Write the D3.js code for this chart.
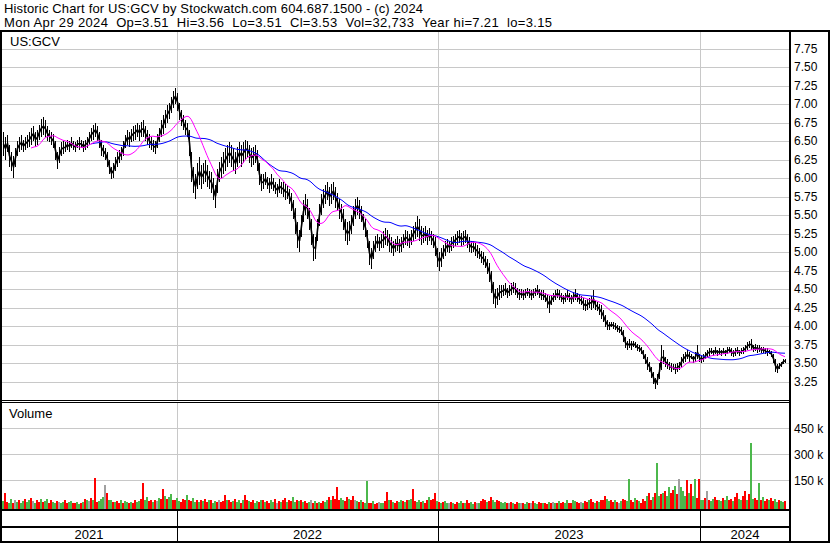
<!DOCTYPE html>
<html><head><meta charset="utf-8">
<script src="https://cdn.jsdelivr.net/npm/d3@7"></script>
<style>
html,body{margin:0;padding:0;background:#fff;}
svg{display:block;font-family:"Liberation Sans",Arial,sans-serif;}
text{white-space:pre;}
</style></head><body>
<svg id="c" width="830" height="543"></svg>
<script>
// ---- data (one point per two trading days, May 2021 .. Apr 29 2024) ----
const hi = [
6.62,6.55,6.58,6.45,6.35,6.30,6.40,6.50,6.55,6.58,
6.52,6.55,6.58,6.62,6.68,6.70,6.62,6.65,6.72,6.80,
6.82,6.78,6.70,6.65,6.62,6.60,6.50,6.35,6.42,6.48,
6.50,6.48,6.52,6.50,6.55,6.50,6.48,6.52,6.55,6.52,
6.50,6.52,6.55,6.62,6.68,6.72,6.75,6.70,6.62,6.52,
6.45,6.40,6.35,6.25,6.15,6.20,6.28,6.35,6.38,6.42,
6.50,6.58,6.65,6.62,6.66,6.70,6.72,6.75,6.72,6.76,
6.78,6.70,6.65,6.60,6.55,6.52,6.50,6.60,6.68,6.78,
6.85,6.92,6.98,7.02,7.10,7.18,7.21,7.15,7.02,6.92,
6.85,6.78,6.75,6.65,6.35,6.15,6.05,6.20,6.28,6.18,
6.20,6.25,6.18,6.10,6.08,6.00,5.90,6.12,6.22,6.28,
6.35,6.40,6.45,6.48,6.45,6.40,6.35,6.42,6.48,6.45,
6.48,6.52,6.50,6.45,6.40,6.42,6.45,6.38,6.20,6.05,
6.05,6.08,6.02,6.00,6.05,6.00,5.95,5.92,5.98,5.95,
5.95,5.92,5.90,5.85,5.80,5.70,5.60,5.40,5.30,5.50,
5.70,5.78,5.72,5.60,5.45,5.25,5.20,5.45,5.65,5.78,
5.85,5.90,5.95,5.88,5.92,5.95,5.88,5.80,5.72,5.65,
5.58,5.45,5.40,5.42,5.50,5.62,5.72,5.75,5.70,5.62,
5.52,5.45,5.30,5.15,5.05,5.15,5.22,5.25,5.20,5.25,
5.28,5.32,5.30,5.25,5.20,5.15,5.18,5.22,5.18,5.20,
5.25,5.30,5.28,5.25,5.30,5.35,5.40,5.48,5.45,5.35,
5.32,5.35,5.30,5.32,5.28,5.25,5.20,5.05,5.00,5.05,
5.10,5.15,5.18,5.15,5.20,5.22,5.25,5.28,5.30,5.26,
5.28,5.30,5.25,5.20,5.15,5.15,5.12,5.10,5.05,5.02,
5.00,4.95,4.90,4.85,4.75,4.60,4.50,4.52,4.55,4.55,
4.55,4.58,4.52,4.55,4.58,4.60,4.58,4.52,4.50,4.50,
4.48,4.50,4.52,4.50,4.48,4.50,4.52,4.55,4.50,4.48,
4.48,4.45,4.42,4.40,4.42,4.45,4.48,4.50,4.48,4.45,
4.42,4.45,4.48,4.45,4.42,4.46,4.50,4.45,4.42,4.40,
4.38,4.35,4.36,4.38,4.40,4.48,4.35,4.32,4.30,4.28,
4.22,4.15,4.08,4.05,4.06,4.05,4.04,4.02,4.00,3.98,
3.95,3.85,3.80,3.82,3.80,3.80,3.78,3.76,3.75,3.72,
3.68,3.62,3.58,3.52,3.45,3.38,3.30,3.35,3.50,3.74,
3.68,3.58,3.55,3.52,3.50,3.48,3.48,3.50,3.52,3.58,
3.62,3.65,3.68,3.65,3.62,3.60,3.65,3.74,3.62,3.60,
3.62,3.65,3.68,3.70,3.70,3.68,3.72,3.68,3.70,3.68,
3.70,3.68,3.72,3.72,3.70,3.68,3.70,3.72,3.68,3.70,
3.72,3.75,3.78,3.80,3.82,3.75,3.76,3.74,3.75,3.72,
3.72,3.70,3.70,3.68,3.66,3.62,3.55,3.48,3.50,3.52,3.56,3.56];
const lo = [
6.30,6.25,6.35,6.15,6.10,6.00,6.15,6.30,6.35,6.38,
6.35,6.38,6.40,6.42,6.45,6.50,6.42,6.45,6.52,6.55,
6.58,6.55,6.50,6.48,6.45,6.40,6.25,6.12,6.20,6.30,
6.32,6.35,6.38,6.35,6.40,6.38,6.35,6.40,6.38,6.40,
6.35,6.38,6.40,6.45,6.50,6.52,6.55,6.50,6.40,6.30,
6.28,6.25,6.15,6.05,5.98,6.00,6.10,6.15,6.20,6.25,
6.30,6.40,6.45,6.42,6.48,6.50,6.52,6.55,6.50,6.55,
6.55,6.50,6.45,6.40,6.38,6.35,6.32,6.40,6.48,6.55,
6.60,6.68,6.75,6.80,6.88,6.95,7.00,6.90,6.78,6.70,
6.65,6.58,6.55,6.30,5.95,5.80,5.72,5.85,5.90,5.85,
5.92,5.95,5.88,5.85,5.80,5.70,5.60,5.80,5.95,6.00,
6.05,6.10,6.15,6.20,6.15,6.10,6.05,6.15,6.20,6.15,
6.20,6.25,6.28,6.20,6.15,6.18,6.20,6.10,5.90,5.82,
5.85,5.90,5.85,5.80,5.85,5.82,5.78,5.75,5.80,5.78,
5.75,5.70,5.72,5.65,5.55,5.45,5.25,5.05,5.00,5.20,
5.40,5.50,5.45,5.30,5.10,4.88,4.90,5.15,5.35,5.50,
5.60,5.65,5.70,5.62,5.65,5.70,5.60,5.55,5.45,5.40,
5.30,5.15,5.10,5.15,5.25,5.35,5.45,5.50,5.45,5.40,
5.30,5.20,5.05,4.82,4.77,4.90,5.00,5.05,5.02,5.05,
5.05,5.10,5.08,5.00,4.98,4.95,5.00,5.02,4.98,5.00,
5.05,5.10,5.08,5.05,5.10,5.15,5.18,5.20,5.15,5.10,
5.12,5.15,5.10,5.15,5.10,5.05,4.95,4.80,4.75,4.80,
4.90,4.95,5.00,4.98,5.02,5.05,5.08,5.10,5.12,5.08,
5.10,5.12,5.05,5.00,4.98,5.00,4.95,4.92,4.90,4.85,
4.82,4.78,4.70,4.60,4.45,4.30,4.25,4.28,4.35,4.38,
4.40,4.42,4.38,4.40,4.42,4.45,4.42,4.38,4.35,4.38,
4.35,4.38,4.40,4.38,4.35,4.38,4.40,4.42,4.38,4.35,
4.35,4.32,4.25,4.18,4.28,4.32,4.35,4.38,4.35,4.32,
4.30,4.32,4.35,4.32,4.30,4.33,4.35,4.32,4.30,4.28,
4.22,4.20,4.22,4.25,4.22,4.25,4.22,4.20,4.15,4.10,
4.05,3.98,3.95,3.95,3.98,3.96,3.95,3.92,3.90,3.88,
3.78,3.70,3.68,3.70,3.68,3.72,3.70,3.66,3.65,3.62,
3.55,3.48,3.40,3.38,3.30,3.22,3.15,3.20,3.28,3.40,
3.48,3.45,3.42,3.40,3.38,3.40,3.35,3.38,3.40,3.45,
3.50,3.52,3.55,3.52,3.55,3.50,3.52,3.55,3.52,3.50,
3.52,3.55,3.58,3.60,3.62,3.60,3.62,3.60,3.62,3.60,
3.62,3.60,3.62,3.64,3.60,3.58,3.60,3.62,3.60,3.62,
3.62,3.65,3.68,3.70,3.68,3.65,3.66,3.64,3.65,3.63,
3.64,3.62,3.60,3.62,3.58,3.50,3.38,3.36,3.42,3.45,3.48,3.50];
// volume in thousands of shares
const volK = [
30,76,25,18,45,22,35,28,40,20,
32,45,25,38,50,30,22,35,28,42,
25,30,45,20,35,28,18,30,25,22,
28,35,20,25,30,18,22,28,15,20,
25,45,35,30,50,40,166,25,30,45,
55,124,80,35,40,28,25,30,20,35,
22,30,25,18,28,20,35,25,30,45,
137,40,55,30,35,25,40,30,50,45,
101,60,45,55,70,40,35,50,30,25,
45,35,66,40,30,50,25,35,28,40,
30,45,25,35,40,22,30,28,35,25,
30,66,40,35,25,30,45,28,35,20,
35,66,40,30,25,38,22,30,28,35,
40,25,30,20,35,28,45,22,30,25,
35,50,28,40,30,55,25,40,30,35,
25,30,20,28,35,22,30,18,25,20,
30,25,35,55,40,60,45,114,35,50,
40,30,55,45,35,60,40,30,25,35,
28,20,147,18,22,30,15,20,25,18,
22,30,85,40,35,28,20,30,25,35,
30,25,40,35,45,100,30,25,35,28,
30,20,35,55,40,45,80,30,25,20,
25,30,20,18,28,22,15,25,20,30,
18,22,35,20,25,15,28,20,22,30,
45,38,25,30,55,40,28,35,30,25,
20,25,18,22,28,20,15,25,22,18,
20,15,25,18,22,30,20,15,25,20,
18,22,15,25,20,28,18,22,30,20,
25,20,35,22,18,40,30,25,20,28,
22,30,25,35,45,28,20,30,25,40,
35,60,45,30,40,25,35,28,20,30,
45,35,30,157,40,25,50,35,30,20,
45,30,60,75,40,55,80,253,60,70,
75,90,60,110,80,95,120,70,157,110,
90,60,153,80,130,60,157,50,157,40,
35,50,92,40,30,45,55,35,40,30,
50,35,60,40,45,30,55,80,45,40,
60,92,40,70,365,45,50,35,137,40,
55,30,45,40,50,30,45,25,35,30,
28,32];
// u = up day (green), d = down day (red), n = unchanged (grey)
const volDir = (
"udduudnudu"+"uduudnuddu"+"duudduudnu"+"udduudduud"+"udundudduu"+
"unduududdu"+"duududduud"+"duuddudnud"+"duduudduud"+"ddudduudud"+
"udduduudnd"+"ddudduduud"+"uddudduudu"+"dudduudndu"+"ddudduudud"+
"uddundudud"+"duududdddu"+"udduddnudu"+"duudduddnu"+"uddududduu"+
"duduudduud"+"uddudddudu"+"duundudduu"+"dudduudnud"+"ddudduuddu"+
"uudnduddun"+"duudnduudd"+"uddudnudud"+"duudduuddn"+"udduddudud"+
"dduuddudnu"+"dduuddudud"+"ddudduduud"+"uduuddudnu"+"uududuuddu"+
"udnduudduu"+"duuddudduu"+"dduduuddud"+"uddudduudu"+"ud").split("");

const priceTicks = [3.25,3.50,3.75,4.00,4.25,4.50,4.75,5.00,5.25,5.50,5.75,6.00,6.25,6.50,6.75,7.00,7.25,7.50,7.75];
const volTicks = [150,300,450];
const years = ["2021","2022","2023","2024"];
const yearStartIdx = [87,217.5,348.5];   // point index where 2022, 2023, 2024 begin
const maFastLen = 15, maSlowLen = 45;      // 30 and 90 trading days
const titleLine1 = "Historic Chart for US:GCV by Stockwatch.com 604.687.1500 - (c) 2024";
const titleLine2 = "Mon Apr 29 2024  Op=3.51  Hi=3.56  Lo=3.51  Cl=3.53  Vol=32,733  Year hi=7.21  lo=3.15";
const symbol = "US:GCV";

// ---- layout ----
const W = 830, H = 543;
const plotL = 1, plotR = 790, pTop = 32, pBot = 400, vTop = 403, vBot = 509;
const gridCol = "#c8c8c8";
const upCol = "#4cb84c", dnCol = "#ff0000", nCol = "#a0a0a0";

const svg = d3.select("#c");
svg.append("rect").attr("width", W).attr("height", H).attr("fill", "#fff");

const x = d3.scaleLinear().domain([0, hi.length - 1]).range([3, 785]);
const y = d3.scaleLinear().domain([3.0, 7.973]).range([pBot, pTop]);
const yv = d3.scaleLinear().domain([0, 597]).range([506.5, vTop]);

// header
svg.append("text").attr("x", 4).attr("y", 13).attr("font-size", 13)
  .attr("textLength", 419).attr("lengthAdjust", "spacing").text(titleLine1);
svg.append("text").attr("x", 4).attr("y", 27).attr("font-size", 13)
  .attr("textLength", 548).attr("lengthAdjust", "spacing").text(titleLine2);

// clip paths
svg.append("clipPath").attr("id", "pclip").append("rect")
  .attr("x", plotL).attr("y", pTop).attr("width", plotR - plotL).attr("height", pBot - pTop);
svg.append("clipPath").attr("id", "vclip").append("rect")
  .attr("x", plotL).attr("y", vTop).attr("width", plotR - plotL).attr("height", vBot - vTop);

// price gridlines
const pg = svg.append("g").attr("transform", `translate(${plotR},0)`)
  .call(d3.axisLeft(y).tickValues(priceTicks).tickSize(plotR - plotL).tickFormat(""));
pg.select(".domain").remove();
pg.selectAll("line").attr("stroke", gridCol).attr("shape-rendering", "crispEdges");

// volume gridlines
const vg = svg.append("g").attr("transform", `translate(${plotR},0)`)
  .call(d3.axisLeft(yv).tickValues(volTicks).tickSize(plotR - plotL).tickFormat(""));
vg.select(".domain").remove();
vg.selectAll("line").attr("stroke", gridCol).attr("shape-rendering", "crispEdges");

// year gridlines
yearStartIdx.forEach(idx => {
  const xx = Math.round(x(idx)) + 0.5;
  svg.append("line").attr("x1", xx).attr("x2", xx).attr("y1", pTop).attr("y2", pBot).attr("stroke", gridCol);
  svg.append("line").attr("x1", xx).attr("x2", xx).attr("y1", vTop).attr("y2", vBot).attr("stroke", gridCol);
  svg.append("line").attr("x1", xx).attr("x2", xx).attr("y1", 511).attr("y2", 541).attr("stroke", "#000");
});

// price: thin high-low bars joined by a trace through the bar mid-points
const mid = hi.map((h, i) => (h + lo[i]) / 2);
const pgBars = svg.append("g").attr("clip-path", "url(#pclip)");
pgBars.selectAll("rect").data(hi).join("rect")
  .attr("x", (d, i) => Math.round(x(i))).attr("width", 1)
  .attr("y", (d, i) => y(hi[i]))
  .attr("height", (d, i) => Math.max(1, y(lo[i]) - y(hi[i])))
  .attr("fill", "#000").attr("shape-rendering", "crispEdges");
pgBars.append("path").datum(mid)
  .attr("d", d3.line().x((d, i) => Math.round(x(i)) + 0.5).y(d => y(d)))
  .attr("fill", "none").attr("stroke", "#000").attr("stroke-width", 1.6);

// moving averages
function sma(n) {
  return mid.map((v, i) => i < n - 1 ? null : d3.mean(mid.slice(i - n + 1, i + 1)));
}
const line = d3.line().defined(d => d != null).x((d, i) => x(i)).y(d => y(d));
svg.append("path").attr("clip-path", "url(#pclip)").datum(sma(maSlowLen)).attr("d", line)
  .attr("fill", "none").attr("stroke", "#0000ff").attr("stroke-width", 1);
svg.append("path").attr("clip-path", "url(#pclip)").datum(sma(maFastLen)).attr("d", line)
  .attr("fill", "none").attr("stroke", "#ff00ff").attr("stroke-width", 1);

// volume bars
svg.append("g").attr("clip-path", "url(#vclip)").selectAll("rect").data(volK).join("rect")
  .attr("x", (d, i) => x(i) - 1).attr("width", 2)
  .attr("y", d => yv(d)).attr("height", d => vBot - yv(d))
  .attr("fill", (d, i) => volDir[i] === "u" ? upCol : volDir[i] === "d" ? dnCol : nCol)
  .attr("shape-rendering", "crispEdges");

// frame
const blk = (xx, yy, w, h) => svg.append("rect").attr("x", xx).attr("y", yy).attr("width", w).attr("height", h).attr("fill", "#000");
blk(0, 30, W, 2);          // top
blk(0, 30, 2, H - 30);     // left
blk(789, 30, 2, H - 30);   // plot right edge
blk(828, 30, 2, H - 30);   // outer right
blk(0, 541, W, 2);         // bottom
blk(0, 400, plotR, 1);     // price/volume separator (double)
blk(0, 402, plotR, 1);
blk(0, 509, plotR, 2);     // volume bottom
blk(0, 526, plotR, 2);     // year row top

// labels
svg.append("text").attr("x", 10).attr("y", 46).attr("font-size", 13).text(symbol);
svg.append("text").attr("x", 9).attr("y", 418).attr("font-size", 13).text("Volume");

const pa = svg.append("g").attr("transform", `translate(${plotR},0)`)
  .call(d3.axisRight(y).tickValues(priceTicks).tickSize(0).tickPadding(4).tickFormat(d3.format(".2f")));
pa.select(".domain").remove();
pa.selectAll("text").attr("font-size", 12).attr("font-family", "Liberation Sans, Arial, sans-serif").attr("fill", "#000");

const va = svg.append("g").attr("transform", `translate(${plotR},0)`)
  .call(d3.axisRight(yv).tickValues(volTicks).tickSize(0).tickPadding(4).tickFormat(d => d + " k"));
va.select(".domain").remove();
va.selectAll("text").attr("font-size", 12).attr("font-family", "Liberation Sans, Arial, sans-serif").attr("fill", "#000");

// year labels
const bounds = [plotL, ...yearStartIdx.map(i => x(i)), plotR];
years.forEach((yr, k) => {
  svg.append("text").attr("x", (bounds[k] + bounds[k + 1]) / 2).attr("y", 539)
    .attr("text-anchor", "middle").attr("font-size", 13).text(yr);
});
</script>
</body></html>
